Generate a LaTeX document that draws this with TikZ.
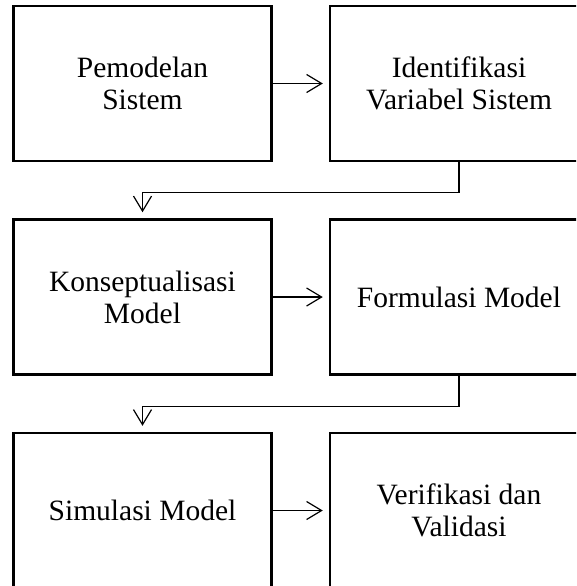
\documentclass[tikz,border=0pt]{standalone}
\usepackage{fontspec}
\setmainfont{Liberation Serif}
\usetikzlibrary{arrows.meta}

\begin{document}
\begin{tikzpicture}[x=1pt,y=-1pt,
    box/.style={draw, line width=2.5pt, minimum width=258pt, minimum height=155pt,
                inner sep=0pt, align=center, font=\fontsize{29.5}{32}\selectfont},
    conn/.style={line width=1.2pt, -{Straight Barb[length=15pt,width=18pt]}, shorten >=6pt},
]
\useasboundingbox (0,0) rectangle (576,586);
\clip (0,0) rectangle (576,586);

% boxes, left and right column
\node[box] (pm) at (142.5,83.5) {Pemodelan\\Sistem};
\node[box] (iv) at (459,83.5) {Identifikasi\\Variabel Sistem};
\node[box] (km) at (142.5,297) {Konseptualisasi\\Model};
\node[box] (fm) at (459,297) {Formulasi Model};
\node[box] (sm) at (142.5,510.5) {Simulasi Model};
\node[box] (vv) at (459,510.5) {Verifikasi dan\\Validasi};

% arrows
\draw[conn] (pm.east) -- (iv.west);
\draw[conn] (km.east) -- (fm.west);
\draw[conn] (sm.east) -- (vv.west);
\draw[conn] (iv.south) -- ++(0,30.5) -| (km.north);
\draw[conn] (fm.south) -- ++(0,30.5) -| (sm.north);
\end{tikzpicture}
\end{document}
